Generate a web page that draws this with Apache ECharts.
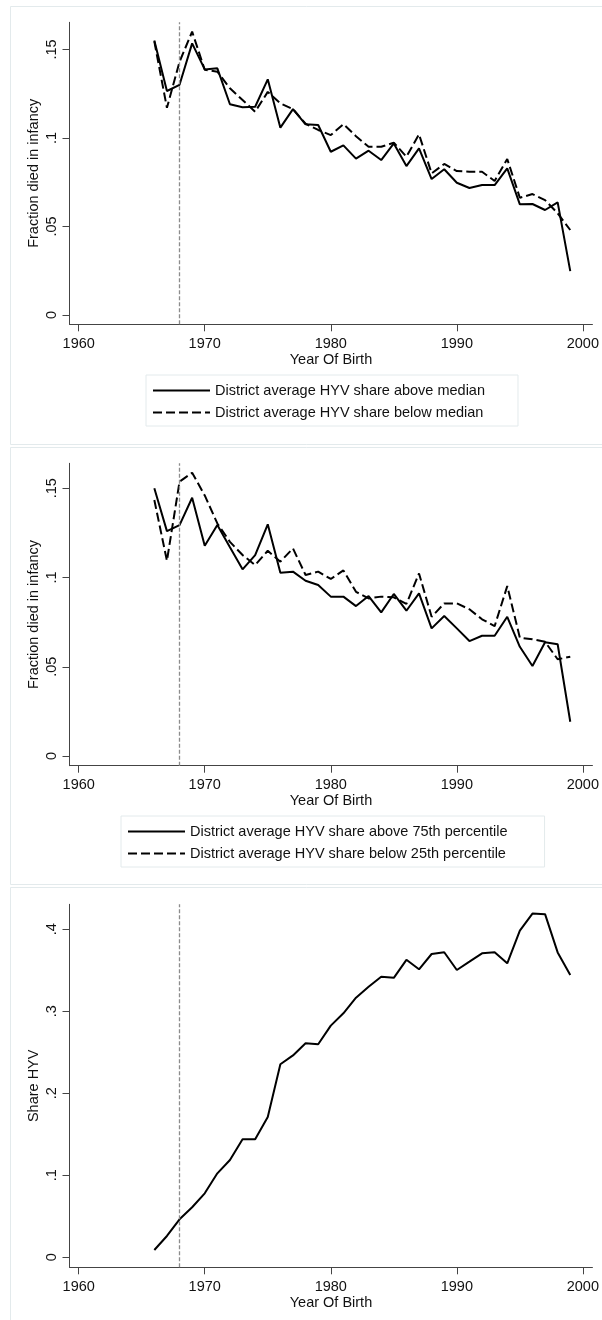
<!DOCTYPE html>
<html>
<head>
<meta charset="utf-8">
<script src="https://cdn.jsdelivr.net/npm/echarts@6/dist/echarts.min.js"></script>
<style>
  html, body { margin: 0; padding: 0; background: #fff; }
  #chart { width: 602px; height: 1320px; }
</style>
</head>
<body>
<div id="chart"></div>
<script>
// years of birth
const years = [1966, 1967, 1968, 1969, 1970, 1971, 1972, 1973, 1974, 1975, 1976, 1977,
  1978, 1979, 1980, 1981, 1982, 1983, 1984, 1985, 1986, 1987, 1988, 1989, 1990,
  1991, 1992, 1993, 1994, 1995, 1996, 1997, 1998, 1999];

// panel 1: fraction died in infancy, by median HYV share
const aboveMedian = [0.155, 0.1265, 0.130, 0.1534, 0.1387, 0.1393, 0.119, 0.1173, 0.1176, 0.1331,
  0.1058, 0.1163, 0.1077, 0.1073, 0.0922, 0.0958, 0.0883, 0.0928, 0.0875, 0.0969, 0.0841, 0.0941,
  0.0768, 0.0823, 0.0747, 0.0717, 0.0734, 0.0734, 0.0828, 0.0625, 0.0627, 0.0593, 0.0636, 0.0248];
const belowMedian = [0.1545, 0.117, 0.143, 0.160, 0.1385, 0.1374, 0.128, 0.1214, 0.1148, 0.126,
  0.1195, 0.1163, 0.108, 0.1045, 0.1016, 0.1078, 0.101, 0.095, 0.095, 0.0973, 0.0894, 0.102,
  0.080, 0.0853, 0.0813, 0.0809, 0.0809, 0.0757, 0.0881, 0.0662, 0.0683, 0.0649, 0.0574, 0.048];

// panel 2: by 75th / 25th percentile
const above75 = [0.150, 0.126, 0.1294, 0.1447, 0.1178, 0.1294, 0.1169, 0.1046, 0.1126, 0.1298,
  0.1027, 0.1033, 0.0982, 0.0958, 0.0893, 0.0893, 0.084, 0.0896, 0.0805, 0.0908, 0.0814, 0.0911,
  0.0715, 0.0784, 0.0715, 0.0644, 0.0674, 0.0674, 0.078, 0.0612, 0.0504, 0.0637, 0.0626, 0.0192];
const below25 = [0.1434, 0.1094, 0.1537, 0.1587, 0.146, 0.1303, 0.120, 0.1126, 0.107, 0.115,
  0.1089, 0.1163, 0.1014, 0.1033, 0.0992, 0.104, 0.092, 0.0883, 0.0893, 0.0889, 0.0852, 0.1023,
  0.078, 0.0855, 0.0855, 0.0822, 0.0766, 0.0728, 0.0952, 0.0663, 0.0654, 0.064, 0.0542, 0.0556];

// panel 3: share HYV
const shareHYV = [0.0089, 0.026, 0.0463, 0.061, 0.078, 0.1024, 0.1187, 0.144, 0.144, 0.1712,
  0.2354, 0.2462, 0.261, 0.2598, 0.2825, 0.2976, 0.3166, 0.330, 0.3422, 0.3408, 0.3628, 0.3512,
  0.3699, 0.372, 0.3504, 0.3605, 0.3707, 0.372, 0.3585, 0.3985, 0.4192, 0.4185, 0.3718, 0.3443];

const xTicks = [1960, 1970, 1980, 1990, 2000];
const yTicksInfant = [0, 0.05, 0.1, 0.15];
const yTicksShare = [0, 0.1, 0.2, 0.3, 0.4];

const legend1 = ["District average HYV share above median", "District average HYV share below median"];
const legend2 = ["District average HYV share above 75th percentile", "District average HYV share below 25th percentile"];

const FONT = "Liberation Sans";
const pairs = vals => years.map((y, i) => [y, vals[i]]);
const fmtY = v => String(v).replace(/^0\./, ".");

function xAxisFor(i) {
  return {
    type: "value", gridIndex: i, min: 1959.27, max: 2000.76,
    name: "Year Of Birth", nameLocation: "middle", nameGap: 27,
    nameTextStyle: { fontFamily: FONT, fontSize: 14.5, color: "#111" },
    axisLine: { onZero: false, lineStyle: { color: "#444", width: 1 } },
    axisTick: { customValues: xTicks, length: 7, lineStyle: { color: "#444" } },
    axisLabel: { customValues: xTicks, margin: 12, formatter: v => String(v),
      fontFamily: FONT, fontSize: 14.5, color: "#111" },
    splitLine: { show: false }
  };
}
function yAxisFor(i, name, min, max, ticks) {
  return {
    type: "value", gridIndex: i, min: min, max: max,
    name: name, nameLocation: "middle", nameGap: 28, nameMoveOverlap: false,
    nameTextStyle: { fontFamily: FONT, fontSize: 14.5, color: "#111" },
    axisLine: { show: true, onZero: false, lineStyle: { color: "#444", width: 1 } },
    axisTick: { show: true, customValues: ticks, length: 7, lineStyle: { color: "#444" } },
    axisLabel: { customValues: ticks, rotate: 90, margin: 10, formatter: fmtY,
      fontFamily: FONT, fontSize: 14.5, color: "#111" },
    splitLine: { show: false }
  };
}
const vline = {
  silent: true, symbol: "none", label: { show: false },
  lineStyle: { color: "#8c8c8c", width: 1.3, type: [4, 2] },
  data: [{ xAxis: 1968 }]
};
function lineSeries(name, vals, i, dashed, withMark) {
  const s = {
    name: name, type: "line", xAxisIndex: i, yAxisIndex: i, data: pairs(vals),
    symbol: "none", color: "#000",
    lineStyle: { color: "#000", width: 2, type: dashed ? [9, 4] : "solid" }
  };
  if (withMark) s.markLine = vline;
  return s;
}
function legendFor(names, left, top, pad) {
  return {
    data: names, orient: "vertical", left: left, top: top, padding: pad,
    itemWidth: 57, itemHeight: 14, itemGap: 7,
    itemStyle: { opacity: 0 },
    borderColor: "#e3eaec", borderWidth: 1,
    textStyle: { fontFamily: FONT, fontSize: 14.5, color: "#111" },
    selectedMode: false
  };
}

const chart = echarts.init(document.getElementById("chart"), null, { renderer: "canvas" });
chart.setOption({
  animation: false,
  backgroundColor: "#fff",
  graphic: [
    { type: "rect", shape: { x: 10.5, y: 6.5, width: 640, height: 438 }, style: { fill: null, stroke: "#e3eaec", lineWidth: 1 } },
    { type: "rect", shape: { x: 10.5, y: 447.5, width: 640, height: 437 }, style: { fill: null, stroke: "#e3eaec", lineWidth: 1 } },
    { type: "rect", shape: { x: 10.5, y: 887.5, width: 640, height: 460 }, style: { fill: null, stroke: "#e3eaec", lineWidth: 1 } }
  ],
  grid: [
    { left: 69.5, top: 22.3, width: 526.3, height: 302 },
    { left: 69.5, top: 463.3, width: 526.3, height: 302.4 },
    { left: 69.5, top: 904.3, width: 526.3, height: 363 }
  ],
  xAxis: [xAxisFor(0), xAxisFor(1), xAxisFor(2)],
  yAxis: [
    yAxisFor(0, "Fraction died in infancy", -0.00525, 0.1653, yTicksInfant),
    yAxisFor(1, "Fraction died in infancy", -0.00543, 0.164, yTicksInfant),
    yAxisFor(2, "Share HYV", -0.0122, 0.4305, yTicksShare)
  ],
  legend: [
    legendFor(legend1, 146, 375, [8, 33, 6, 6]),
    legendFor(legend2, 121, 816, [8, 37, 6, 6])
  ],
  series: [
    lineSeries(legend1[0], aboveMedian, 0, false, true),
    lineSeries(legend1[1], belowMedian, 0, true, false),
    lineSeries(legend2[0], above75, 1, false, true),
    lineSeries(legend2[1], below25, 1, true, false),
    lineSeries("Share HYV", shareHYV, 2, false, true)
  ]
});
</script>
</body>
</html>
